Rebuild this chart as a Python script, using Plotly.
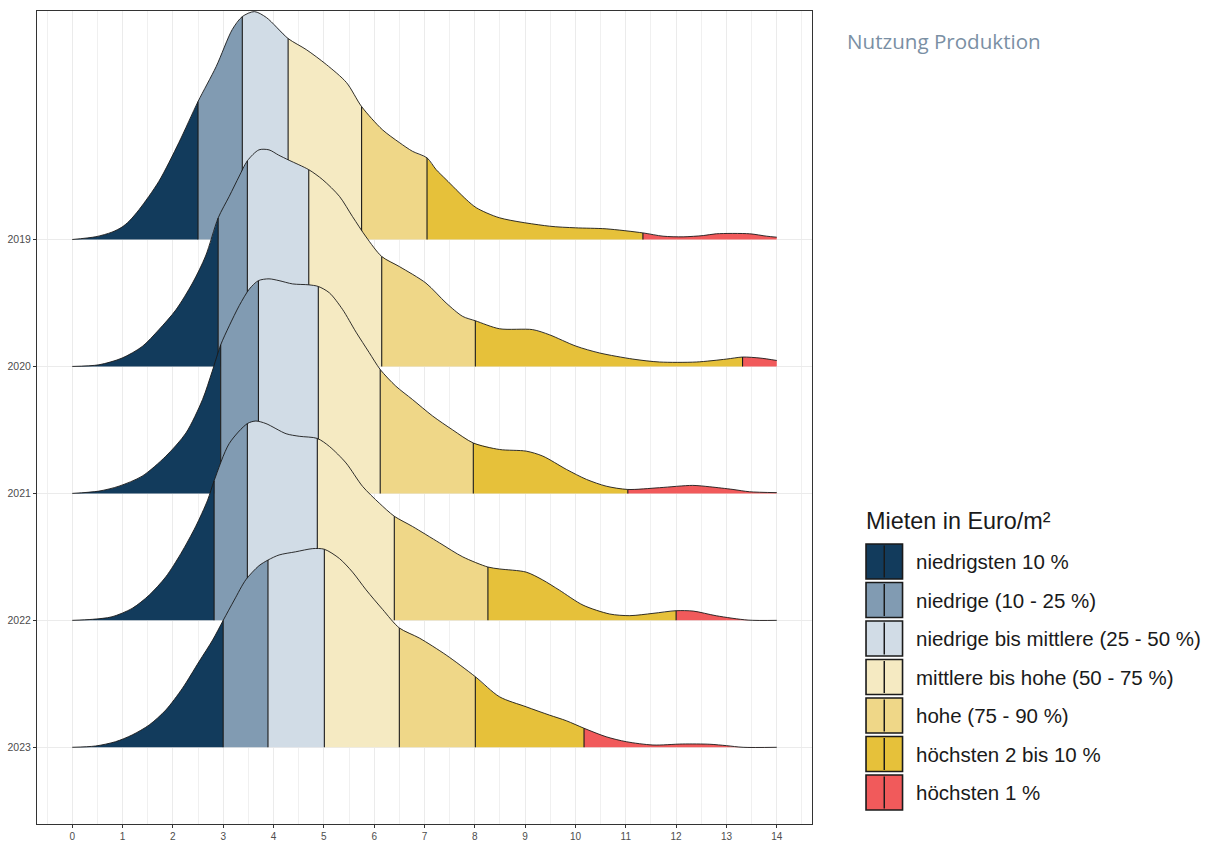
import plotly.graph_objects as go

# ---------------- data ----------------
years = ["2019", "2020", "2021", "2022", "2023"]

x_2019 = [0, 0.47, 0.79, 0.99, 1.13, 1.33, 1.72, 2.12, 2.50, 2.86, 3.18, 3.38, 3.62, 3.86, 4.29, 4.65, 5.05, 5.45, 5.75, 6.16, 6.50,
          6.76, 7.05, 7.23, 7.43, 7.83, 8.03, 8.49, 9.48, 10.0, 10.61, 11.34, 11.74, 12.14, 12.54, 12.80, 13.46, 13.80, 14.0]
h_2019 = [0, 0.022, 0.058, 0.098, 0.144, 0.236, 0.457, 0.764, 1.087, 1.362, 1.654, 1.756, 1.795, 1.748, 1.583, 1.496, 1.378, 1.236, 1.047, 0.866, 0.764,
          0.695, 0.643, 0.551, 0.472, 0.315, 0.25, 0.171, 0.105, 0.092, 0.084, 0.052, 0.026, 0.021, 0.031, 0.045, 0.045, 0.026, 0.018]
q_2019 = [2.50, 3.38, 4.29, 5.75, 7.05, 11.34]

x_2020 = [0, 0.53, 0.99, 1.39, 1.72, 2.06, 2.39, 2.65, 2.90, 3.12, 3.32, 3.48, 3.71, 3.91, 4.10, 4.31, 4.70, 4.98, 5.31, 5.57,
          5.84, 6.15, 6.50, 7.03, 7.43, 7.76, 8.01, 8.49, 9.15, 9.48, 10.01, 10.48, 11.14, 11.67, 12.40, 13.0, 13.32, 13.67, 14.0]
h_2020 = [0, 0.013, 0.066, 0.157, 0.289, 0.446, 0.657, 0.87, 1.17, 1.34, 1.50, 1.62, 1.706, 1.706, 1.665, 1.624, 1.55, 1.47, 1.34, 1.18,
          1.02, 0.866, 0.787, 0.656, 0.50, 0.394, 0.36, 0.297, 0.29, 0.25, 0.16, 0.106, 0.058, 0.035, 0.035, 0.058, 0.074, 0.066, 0.047]
q_2020 = [2.90, 3.48, 4.70, 6.15, 8.01, 13.32]

x_2021 = [0, 0.53, 0.93, 1.39, 1.86, 2.26, 2.59, 2.78, 2.95, 3.12, 3.32, 3.52, 3.70, 3.91, 4.11, 4.38, 4.70, 4.89, 5.11, 5.37,
          5.64, 5.90, 6.12, 6.43, 6.76, 7.16, 7.56, 7.97, 8.49, 9.02, 9.35, 9.82, 10.22, 10.61, 11.04, 11.67, 12.33, 12.67, 13.13, 13.46, 14.0]
h_2021 = [0, 0.018, 0.057, 0.136, 0.293, 0.476, 0.74, 0.96, 1.17, 1.32, 1.48, 1.61, 1.676, 1.69, 1.676, 1.65, 1.643, 1.63, 1.58, 1.45,
          1.27, 1.11, 0.976, 0.845, 0.74, 0.61, 0.50, 0.397, 0.346, 0.333, 0.294, 0.189, 0.110, 0.057, 0.031, 0.045, 0.063, 0.052, 0.031, 0.013, 0.006]
q_2021 = [2.95, 3.70, 4.89, 6.12, 7.97, 11.04]

x_2022 = [0, 0.40, 0.79, 1.19, 1.53, 1.86, 2.16, 2.45, 2.69, 2.82, 3.12, 3.48, 3.65, 3.85, 4.25, 4.51, 4.87, 5.11, 5.44, 5.77,
          6.10, 6.40, 6.76, 7.30, 7.76, 8.26, 8.49, 9.02, 9.35, 9.68, 10.15, 10.68, 11.08, 11.54, 12.0, 12.34, 12.80, 13.43, 14.0]
h_2022 = [0, 0.008, 0.028, 0.094, 0.199, 0.343, 0.527, 0.737, 0.947, 1.10, 1.393, 1.55, 1.57, 1.55, 1.47, 1.45, 1.433, 1.37, 1.24, 1.055,
          0.924, 0.82, 0.74, 0.61, 0.50, 0.42, 0.405, 0.38, 0.318, 0.238, 0.12, 0.05, 0.037, 0.055, 0.076, 0.073, 0.036, 0.002, 0]
q_2022 = [2.82, 3.48, 4.87, 6.40, 8.26, 12.0]

x_2023 = [0, 0.46, 0.86, 1.19, 1.53, 1.86, 2.19, 2.52, 2.79, 3.00, 3.22, 3.45, 3.71, 3.89, 4.11, 4.44, 4.78, 5.01, 5.31, 5.57,
          5.84, 6.17, 6.50, 6.90, 7.43, 8.01, 8.49, 9.02, 9.48, 9.82, 10.17, 10.61, 11.01, 11.54, 12.13, 12.67, 13.0, 13.33, 14.0]
h_2023 = [0, 0.010, 0.044, 0.097, 0.176, 0.294, 0.465, 0.675, 0.845, 1.0, 1.16, 1.32, 1.43, 1.475, 1.515, 1.54, 1.565, 1.56, 1.487, 1.38,
          1.24, 1.085, 0.94, 0.86, 0.727, 0.556, 0.398, 0.319, 0.254, 0.209, 0.150, 0.083, 0.044, 0.018, 0.026, 0.024, 0.013, 0.0, 0]
q_2023 = [3.00, 3.89, 5.01, 6.50, 8.01, 10.17]

categories = ["niedrigsten 10 %", "niedrige (10 - 25 %)", "niedrige bis mittlere (25 - 50 %)",
              "mittlere bis hohe (50 - 75 %)", "hohe (75 - 90 %)", "höchsten 2 bis 10 %", "höchsten 1 %"]
colors = ["#123b5c", "#819bb2", "#d1dce6", "#f5eac2", "#efd788", "#e6c13a", "#f15a5b"]

x_ticks = list(range(0, 15))
legend_title = "Mieten in Euro/m²"
chart_title = "Nutzung Produktion"

ridges = {
    "2019": (x_2019, h_2019, q_2019),
    "2020": (x_2020, h_2020, q_2020),
    "2021": (x_2021, h_2021, q_2021),
    "2022": (x_2022, h_2022, q_2022),
    "2023": (x_2023, h_2023, q_2023),
}

# ---------------- figure ----------------
W, H = 1206, 841
L, R, T, B = 37.3, 812.0, 11.0, 824.0  # plot area in pixels

fig = go.Figure()
base_of = {y: len(years) - i for i, y in enumerate(years)}  # 2019 top, 2023 bottom
X_MIN, X_MAX = 0, 14

for yr in years:
    xs, hs, qs = ridges[yr]
    b = base_of[yr]
    bounds = [X_MIN] + qs + [X_MAX]
    for k in range(len(bounds) - 1):
        lo, hi = bounds[k], bounds[k + 1]
        sx = [x for x in xs if lo - 1e-9 <= x <= hi + 1e-9]
        sy = [b + h for x, h in zip(xs, hs) if lo - 1e-9 <= x <= hi + 1e-9]
        fig.add_trace(go.Scatter(x=[lo, hi], y=[b, b], mode="lines", line=dict(width=0, color="rgba(0,0,0,0)"),
                                 hoverinfo="skip", showlegend=False))
        fig.add_trace(go.Scatter(x=sx, y=sy, mode="lines", fill="tonexty", fillcolor=colors[k],
                                 line=dict(width=0, shape="spline", smoothing=0.8, color=colors[k]),
                                 hoverinfo="skip", showlegend=False))
    # quantile lines
    qx, qy = [], []
    for q in qs:
        hq = hs[xs.index(q)]
        qx += [q, q, None]
        qy += [b, b + hq, None]
    fig.add_trace(go.Scatter(x=qx, y=qy, mode="lines", line=dict(width=1.1, color="#1a1a1a"),
                             hoverinfo="skip", showlegend=False))
    # outline
    fig.add_trace(go.Scatter(x=xs, y=[b + h for h in hs], mode="lines",
                             line=dict(width=0.9, color="#1a1a1a", shape="spline", smoothing=0.8),
                             hoverinfo="skip", showlegend=False))

def px_to_paper_x(px):
    return (px - L) / (R - L)

def px_to_paper_y(py):
    return (B - py) / (B - T)

shapes = []
annotations = []

# legend (drawn manually, ggplot-like keys)
key_left, key_right = 866.0, 902.5
key_top0, key_h, key_step = 544.0, 35.0, 38.5
for i, (lab, col) in enumerate(zip(categories, colors)):
    top = key_top0 + i * key_step
    bot = top + key_h
    shapes.append(dict(type="rect", xref="paper", yref="paper",
                       x0=px_to_paper_x(key_left), x1=px_to_paper_x(key_right),
                       y0=px_to_paper_y(bot), y1=px_to_paper_y(top),
                       fillcolor=col, line=dict(color="#1a1a1a", width=1.6)))
    cx = (key_left + key_right) / 2
    shapes.append(dict(type="line", xref="paper", yref="paper",
                       x0=px_to_paper_x(cx), x1=px_to_paper_x(cx),
                       y0=px_to_paper_y(bot - 1.5), y1=px_to_paper_y(top + 1.5),
                       line=dict(color="#1a1a1a", width=1.5)))
    annotations.append(dict(xref="paper", yref="paper", x=px_to_paper_x(914), y=px_to_paper_y((top + bot) / 2),
                            xanchor="left", yanchor="middle", showarrow=False, text=lab,
                            font=dict(family="Liberation Sans, Arial", size=20.5, color="#1a1a1a")))

annotations.append(dict(xref="paper", yref="paper", x=px_to_paper_x(864), y=px_to_paper_y(521),
                        xanchor="left", yanchor="middle", showarrow=False, text=legend_title,
                        font=dict(family="Liberation Sans, Arial", size=23.4, color="#1a1a1a")))
annotations.append(dict(xref="paper", yref="paper", x=px_to_paper_x(845), y=px_to_paper_y(41),
                        xanchor="left", yanchor="middle", showarrow=False, text=chart_title,
                        font=dict(family="Open Sans", size=20.6, color="#7a8fa4")))

y_lo = 1 - (B - 747.3) / 126.95
y_hi = 1 + (747.3 - T) / 126.95

fig.update_layout(
    width=W, height=H,
    margin=dict(l=L, r=W - R, t=T, b=H - B, autoexpand=False),
    plot_bgcolor="white", paper_bgcolor="white",
    showlegend=False,
    shapes=shapes, annotations=annotations,
    xaxis=dict(range=[-0.7, 14.7], tickmode="array", tickvals=x_ticks, ticktext=[str(t) for t in x_ticks],
               showgrid=True, gridcolor="#ebebeb", gridwidth=1,
               minor=dict(tick0=0.5, dtick=1, showgrid=True, gridcolor="#f0f0f0", gridwidth=0.8),
               ticks="outside", ticklen=3, tickcolor="#333333", tickwidth=1,
               showline=True, mirror=True, linecolor="#333333", linewidth=1, zeroline=False,
               tickfont=dict(family="Liberation Sans, Arial", size=10, color="#4d4d4d")),
    yaxis=dict(range=[y_lo, y_hi], tickmode="array", tickvals=[base_of[y] for y in years], ticktext=years,
               showgrid=True, gridcolor="#ebebeb", gridwidth=1,
               ticks="outside", ticklen=3, tickcolor="#333333", tickwidth=1,
               showline=True, mirror=True, linecolor="#333333", linewidth=1, zeroline=False,
               tickfont=dict(family="Liberation Sans, Arial", size=10.5, color="#4d4d4d")),
)

fig.write_html("out.html", config={"displayModeBar": False},
               post_script="document.body.style.margin='0px';document.body.style.overflow='hidden';")
